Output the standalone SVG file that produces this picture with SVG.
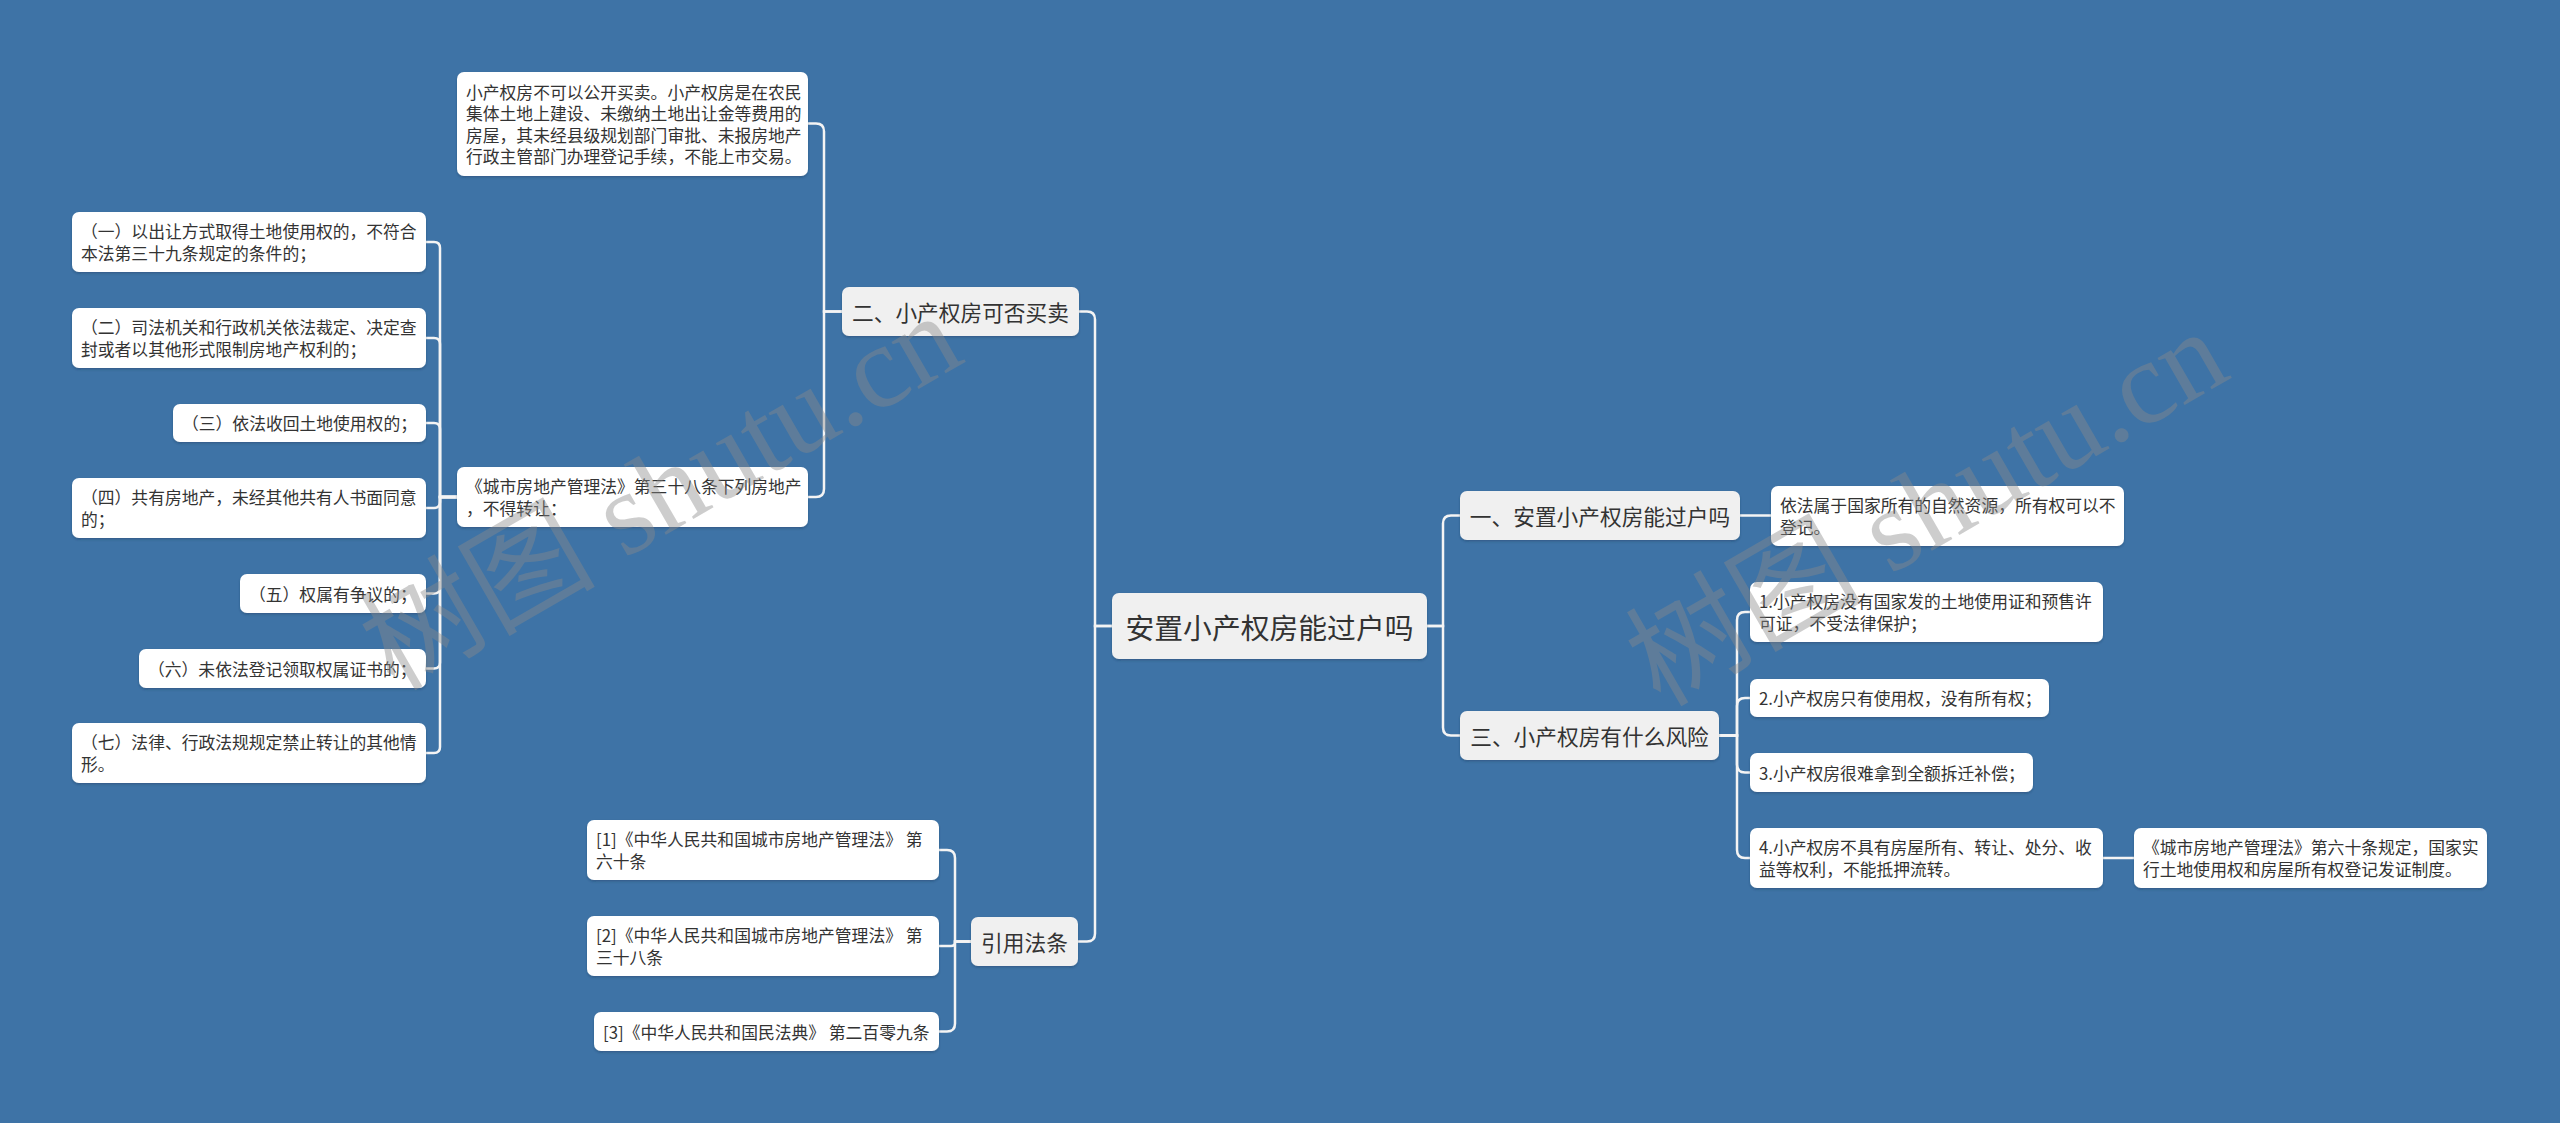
<svg xmlns="http://www.w3.org/2000/svg" width="2560" height="1123" viewBox="0 0 2560 1123">
<defs>
<filter id="sh" x="-5%" y="-10%" width="110%" height="130%">
<feDropShadow dx="0" dy="1.5" stdDeviation="1.2" flood-color="#1a3550" flood-opacity="0.35"/>
</filter>
<style>
text{font-family:"Noto Sans CJK SC","Liberation Sans",sans-serif;fill:#333;dominant-baseline:central}
.root rect{fill:#f0f0f0}
.main rect{fill:#f0f0f0}
.leaf rect{fill:#ffffff}
rect{filter:url(#sh)}
.root text{font-size:28.8px}
.main text{font-size:21.7px}
.leaf text{font-size:16.8px}
.c{text-anchor:middle}
#connectors path{fill:none;stroke:#f4f4f4;stroke-width:2.5}
.wm{font-family:"Liberation Serif","Noto Sans CJK SC",serif;font-size:118px;fill:#8a8a8a;opacity:0.42;text-anchor:middle}
</style>
</defs>
<rect x="0" y="0" width="2560" height="1123" fill="#3e73a6" style="filter:none"/>

<g id="connectors">
<path d="M1112,626 H1095 V319.5 Q1095,311.5 1087,311.5 H1079"/>
<path d="M1112,626 H1095 V933.5 Q1095,941.5 1087,941.5 H1078"/>
<path d="M1427,626 H1443 V523.5 Q1443,515.5 1451,515.5 H1460"/>
<path d="M1427,626 H1443 V727.5 Q1443,735.5 1451,735.5 H1460"/>
<path d="M1740,515.5 H1771"/>
<path d="M1719,735.5 H1737 V620 Q1737,612 1745,612 H1750"/>
<path d="M1719,735.5 H1737 V706 Q1737,698 1745,698 H1750"/>
<path d="M1719,735.5 H1737 V764.5 Q1737,772.5 1745,772.5 H1750"/>
<path d="M1719,735.5 H1737 V850 Q1737,858 1745,858 H1750"/>
<path d="M2103,858 H2134"/>
<path d="M842,311.5 H824 V131.5 Q824,123.5 816,123.5 H808"/>
<path d="M842,311.5 H824 V489 Q824,497 816,497 H808"/>
<path d="M457,497 H440 V248 Q440,242 434,242 H426"/>
<path d="M457,497 H440 V344 Q440,338 434,338 H426"/>
<path d="M457,497 H440 V429 Q440,423 434,423 H426"/>
<path d="M457,497 H440 V502 Q440,508 434,508 H426"/>
<path d="M457,497 H440 V587.5 Q440,593.5 434,593.5 H426"/>
<path d="M457,497 H440 V662.5 Q440,668.5 434,668.5 H426"/>
<path d="M457,497 H440 V747 Q440,753 434,753 H426"/>
<path d="M971,941.5 H955 V858 Q955,850 947,850 H939"/>
<path d="M971,941.5 H955 V942 Q955,946 951,946 H939"/>
<path d="M971,941.5 H955 V1023.5 Q955,1031.5 947,1031.5 H939"/>
</g>

<g id="root" class="root">
<rect x="1112" y="593" width="315" height="66" rx="7"/>
<text class="c" x="1269.5" y="626">安置小产权房能过户吗</text>
</g>

<g id="b2" class="main">
<rect x="842" y="287" width="237" height="49" rx="7"/>
<text class="c" x="960.5" y="311.5">二、小产权房可否买卖</text>
</g>
<g id="b4" class="main">
<rect x="971" y="917" width="107" height="49" rx="7"/>
<text class="c" x="1024.5" y="941.5">引用法条</text>
</g>
<g id="b1" class="main">
<rect x="1460" y="491" width="280" height="49" rx="7"/>
<text class="c" x="1600" y="515.5">一、安置小产权房能过户吗</text>
</g>
<g id="b3" class="main">
<rect x="1460" y="711" width="259" height="49" rx="7"/>
<text class="c" x="1589.5" y="735.5">三、小产权房有什么风险</text>
</g>

<g id="l7" class="leaf">
<rect x="457" y="72" width="351" height="104" rx="7"/>
<text x="466"><tspan x="466" y="91.75">小产权房不可以公开买卖。小产权房是在农民</tspan><tspan x="466" y="113.25">集体土地上建设、未缴纳土地出让金等费用的</tspan><tspan x="466" y="134.75">房屋，其未经县级规划部门审批、未报房地产</tspan><tspan x="466" y="156.25">行政主管部门办理登记手续，不能上市交易。</tspan></text>
</g>
<g id="l8" class="leaf">
<rect x="457" y="467" width="351" height="60" rx="7"/>
<text><tspan x="466" y="486.25">《城市房地产管理法》第三十八条下列房地产</tspan><tspan x="466" y="507.75">，不得转让：</tspan></text>
</g>
<g id="la" class="leaf">
<rect x="72" y="212" width="354" height="60" rx="7"/>
<text><tspan x="81" y="231.25">（一）以出让方式取得土地使用权的，不符合</tspan><tspan x="81" y="252.75">本法第三十九条规定的条件的；</tspan></text>
</g>
<g id="lb" class="leaf">
<rect x="72" y="308" width="354" height="60" rx="7"/>
<text><tspan x="81" y="327.25">（二）司法机关和行政机关依法裁定、决定查</tspan><tspan x="81" y="348.75">封或者以其他形式限制房地产权利的；</tspan></text>
</g>
<g id="lc" class="leaf">
<rect x="173" y="404" width="253" height="38" rx="7"/>
<text x="182" y="423">（三）依法收回土地使用权的；</text>
</g>
<g id="ld" class="leaf">
<rect x="72" y="478" width="354" height="60" rx="7"/>
<text><tspan x="81" y="497.25">（四）共有房地产，未经其他共有人书面同意</tspan><tspan x="81" y="518.75">的；</tspan></text>
</g>
<g id="le" class="leaf">
<rect x="240" y="574" width="186" height="39" rx="7"/>
<text x="249" y="593.5">（五）权属有争议的；</text>
</g>
<g id="lf" class="leaf">
<rect x="139" y="649" width="287" height="39" rx="7"/>
<text x="148" y="668.5">（六）未依法登记领取权属证书的；</text>
</g>
<g id="lg" class="leaf">
<rect x="72" y="723" width="354" height="60" rx="7"/>
<text><tspan x="81" y="742.25">（七）法律、行政法规规定禁止转让的其他情</tspan><tspan x="81" y="763.75">形。</tspan></text>
</g>

<g id="l1" class="leaf">
<rect x="1771" y="486" width="353" height="60" rx="7"/>
<text><tspan x="1780" y="505.25">依法属于国家所有的自然资源，所有权可以不</tspan><tspan x="1780" y="526.75">登记。</tspan></text>
</g>
<g id="l2" class="leaf">
<rect x="1750" y="582" width="353" height="60" rx="7"/>
<text><tspan x="1759" y="601.25">1.小产权房没有国家发的土地使用证和预售许</tspan><tspan x="1759" y="622.75">可证，不受法律保护；</tspan></text>
</g>
<g id="l3" class="leaf">
<rect x="1750" y="679" width="299" height="38" rx="7"/>
<text x="1759" y="698">2.小产权房只有使用权，没有所有权；</text>
</g>
<g id="l4" class="leaf">
<rect x="1750" y="753" width="283" height="39" rx="7"/>
<text x="1759" y="772.5">3.小产权房很难拿到全额拆迁补偿；</text>
</g>
<g id="l5" class="leaf">
<rect x="1750" y="828" width="353" height="60" rx="7"/>
<text><tspan x="1759" y="847.25">4.小产权房不具有房屋所有、转让、处分、收</tspan><tspan x="1759" y="868.75">益等权利，不能抵押流转。</tspan></text>
</g>
<g id="l6" class="leaf">
<rect x="2134" y="828" width="353" height="60" rx="7"/>
<text><tspan x="2143" y="847.25">《城市房地产管理法》第六十条规定，国家实</tspan><tspan x="2143" y="868.75">行土地使用权和房屋所有权登记发证制度。</tspan></text>
</g>

<g id="r1" class="leaf">
<rect x="587" y="820" width="352" height="60" rx="7"/>
<text><tspan x="596" y="839.25">[1]《中华人民共和国城市房地产管理法》 第</tspan><tspan x="596" y="860.75">六十条</tspan></text>
</g>
<g id="r2" class="leaf">
<rect x="587" y="916" width="352" height="60" rx="7"/>
<text><tspan x="596" y="935.25">[2]《中华人民共和国城市房地产管理法》 第</tspan><tspan x="596" y="956.75">三十八条</tspan></text>
</g>
<g id="r3" class="leaf">
<rect x="594" y="1012" width="345" height="39" rx="7"/>
<text x="603" y="1031.5">[3]《中华人民共和国民法典》 第二百零九条</text>
</g>

<g id="watermark">
<text class="wm" transform="translate(661,492) rotate(-30)">树图 shutu.cn</text>
<text class="wm" transform="translate(1927,508) rotate(-30)">树图 shutu.cn</text>
</g>
</svg>
